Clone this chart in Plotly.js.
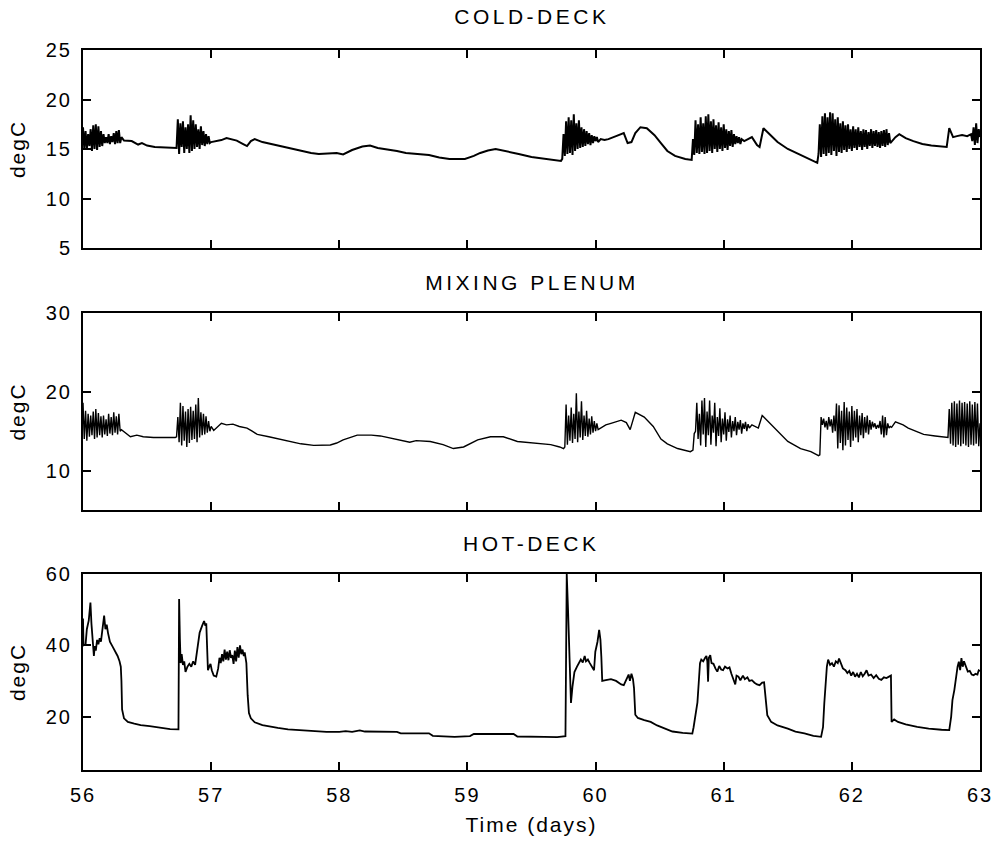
<!DOCTYPE html>
<html>
<head>
<meta charset="utf-8">
<script src="https://cdn.plot.ly/plotly-3.0.1.min.js"></script>
<style>
  html, body { margin: 0; padding: 0; background: #fff; }
  #chart { width: 1000px; height: 845px; }
  .main-svg text { letter-spacing: 2px; }
  .main-svg .annotation-text { letter-spacing: 3.5px; }
</style>
</head>
<body>
<div id="chart"></div>
<script>
// ---- Data (time in days, temperature in degC) ----
const panelTitles = ['COLD-DECK', 'MIXING PLENUM', 'HOT-DECK'];
const xTickVals = [56, 57, 58, 59, 60, 61, 62, 63];

const coldDeck = [
  [56.00,17.2],[56.01,15.0],[56.02,16.8],[56.03,15.0],[56.04,16.5],[56.05,15.3],[56.06,17.0],[56.07,14.8],[56.08,17.4],[56.09,15.0],
  [56.10,17.5],[56.11,14.9],[56.12,17.3],[56.13,15.2],[56.14,16.8],[56.15,15.3],[56.16,16.5],[56.17,15.6],[56.18,16.2],[56.19,15.6],
  [56.20,16.5],[56.21,15.5],[56.22,16.3],[56.23,15.7],[56.24,16.6],[56.25,15.5],[56.26,16.8],[56.27,15.6],[56.28,16.9],[56.29,15.6],[56.30,16.2],
  [56.32,15.85],[56.38,15.8],[56.43,15.45],[56.46,15.6],[56.50,15.35],[56.56,15.2],[56.62,15.15],[56.72,15.1],
  [56.73,15.1],[56.74,18.0],[56.75,14.5],[56.76,17.6],[56.77,15.2],[56.78,17.8],[56.79,14.6],[56.80,17.2],[56.81,15.0],[56.82,17.5],
  [56.83,14.6],[56.84,18.4],[56.85,14.8],[56.86,17.9],[56.87,15.0],[56.88,17.5],[56.89,15.2],[56.90,17.0],[56.91,15.0],[56.92,17.3],
  [56.93,15.4],[56.94,16.8],[56.95,15.3],[56.96,16.5],[56.97,15.5],[56.98,16.3],[56.99,15.6],[57.00,15.7],
  [57.05,15.8],[57.08,15.9],[57.12,16.1],[57.15,16.0],[57.20,15.85],[57.25,15.5],[57.28,15.3],[57.31,15.8],[57.34,16.0],[57.40,15.7],
  [57.50,15.4],[57.60,15.1],[57.69,14.9],[57.78,14.6],[57.84,14.5],[57.92,14.6],[57.98,14.6],[58.03,14.45],[58.10,14.9],[58.18,15.25],
  [58.24,15.35],[58.30,15.1],[58.36,15.0],[58.45,14.8],[58.52,14.6],[58.62,14.5],[58.70,14.4],[58.78,14.15],[58.86,14.0],[58.98,14.0],
  [59.05,14.3],[59.10,14.6],[59.16,14.85],[59.22,15.0],[59.30,14.8],[59.40,14.5],[59.50,14.2],[59.60,14.05],[59.68,13.95],[59.73,13.8],
  [59.74,14.0],[59.75,16.5],[59.76,14.3],[59.77,17.8],[59.78,14.5],[59.79,18.2],[59.80,14.6],[59.81,17.9],[59.82,14.4],[59.83,18.5],
  [59.84,14.8],[59.85,17.6],[59.86,15.0],[59.87,17.9],[59.88,15.1],[59.89,17.2],[59.90,15.2],[59.91,17.0],[59.92,15.3],[59.93,16.8],
  [59.94,15.5],[59.95,16.6],[59.96,15.4],[59.97,16.4],[59.98,15.6],[59.99,16.3],[60.00,15.8],[60.01,16.2],[60.02,15.7],[60.04,16.0],[60.07,15.9],
  [60.10,16.0],[60.16,16.3],[60.20,16.5],[60.22,16.6],[60.25,15.6],[60.28,15.7],[60.31,16.6],[60.35,17.2],[60.40,17.1],[60.46,16.4],
  [60.51,15.6],[60.56,14.8],[60.62,14.3],[60.70,14.0],[60.75,13.9],
  [60.76,16.0],[60.77,14.4],[60.78,17.9],[60.79,14.6],[60.80,17.5],[60.81,14.5],[60.82,18.2],[60.83,14.7],[60.84,17.6],[60.85,14.5],
  [60.86,18.3],[60.87,14.6],[60.88,18.5],[60.89,14.8],[60.90,17.8],[60.91,14.6],[60.92,18.0],[60.93,15.0],[60.94,17.4],[60.95,14.7],
  [60.96,17.7],[60.97,15.0],[60.98,17.2],[60.99,14.8],[61.00,17.5],[61.01,15.1],[61.02,17.0],[61.03,14.9],[61.04,16.8],[61.05,15.3],
  [61.06,16.9],[61.07,15.2],[61.08,16.5],[61.09,15.5],[61.10,16.3],[61.11,15.6],[61.12,16.2],[61.13,15.5],[61.14,16.0],
  [61.16,15.8],[61.19,16.0],[61.22,16.2],[61.26,15.4],[61.28,15.2],[61.31,17.1],[61.36,16.5],[61.42,15.7],[61.50,15.0],[61.58,14.5],
  [61.65,14.1],[61.73,13.6],
  [61.74,14.5],[61.75,17.5],[61.76,14.2],[61.77,18.3],[61.78,14.5],[61.79,18.6],[61.80,14.3],[61.81,18.2],[61.82,14.6],[61.83,18.7],
  [61.84,14.4],[61.85,18.6],[61.86,14.8],[61.87,18.0],[61.88,14.3],[61.89,18.2],[61.90,14.7],[61.91,17.6],[61.92,14.6],[61.93,17.8],
  [61.94,14.9],[61.95,17.4],[61.96,14.7],[61.97,17.5],[61.98,15.0],[61.99,17.0],[62.00,14.8],[62.01,17.3],[62.02,15.1],[62.03,17.0],
  [62.04,14.9],[62.05,17.2],[62.06,15.2],[62.07,16.8],[62.08,14.9],[62.09,17.0],[62.10,15.2],[62.11,16.9],[62.12,15.0],[62.13,16.7],
  [62.14,15.3],[62.15,17.0],[62.16,15.1],[62.17,16.8],[62.18,15.3],[62.19,16.9],[62.20,15.2],[62.21,16.7],[62.22,15.1],[62.23,16.8],
  [62.24,15.3],[62.25,16.9],[62.26,15.2],[62.27,17.0],[62.28,15.4],[62.29,16.6],[62.30,15.6],
  [62.34,16.2],[62.37,16.5],[62.42,16.1],[62.48,15.8],[62.55,15.5],[62.62,15.35],[62.70,15.2],[62.74,15.2],[62.76,17.1],[62.79,16.2],
  [62.82,16.3],[62.86,16.4],[62.90,16.3],[62.93,16.5],
  [62.94,15.8],[62.95,17.2],[62.96,15.4],[62.97,17.6],[62.98,15.6],[62.99,17.0],[63.00,16.2]
];

const mixingPlenum = [
  [56.00,18.6],[56.01,14.0],[56.02,17.6],[56.03,13.8],[56.04,17.2],[56.05,14.3],[56.06,17.0],[56.07,14.5],[56.08,17.5],[56.09,14.0],
  [56.10,17.8],[56.11,14.2],[56.12,17.3],[56.13,14.5],[56.14,16.9],[56.15,14.2],[56.16,17.0],[56.17,14.6],[56.18,16.5],[56.19,14.4],
  [56.20,17.2],[56.21,14.7],[56.22,16.8],[56.23,14.5],[56.24,17.4],[56.25,14.8],[56.26,16.9],[56.27,14.6],[56.28,17.2],[56.29,15.0],[56.30,15.2],
  [56.33,14.8],[56.37,14.3],[56.42,14.5],[56.47,14.3],[56.55,14.2],[56.72,14.2],
  [56.73,14.3],[56.74,16.8],[56.75,13.6],[56.76,18.6],[56.77,13.2],[56.78,18.2],[56.79,13.8],[56.80,17.5],[56.81,13.0],[56.82,17.8],
  [56.83,13.5],[56.84,18.1],[56.85,13.9],[56.86,17.6],[56.87,14.0],[56.88,18.4],[56.89,13.6],[56.90,19.2],[56.91,14.2],[56.92,17.4],
  [56.93,14.5],[56.94,17.2],[56.95,14.6],[56.96,16.9],[56.97,14.8],[56.98,16.3],[56.99,15.0],[57.00,15.6],
  [57.02,15.1],[57.05,15.6],[57.08,16.0],[57.12,15.8],[57.17,15.9],[57.22,15.6],[57.28,15.4],[57.32,15.0],[57.36,14.6],[57.45,14.3],
  [57.57,13.9],[57.70,13.4],[57.80,13.2],[57.93,13.25],[57.98,13.5],[58.03,13.9],[58.14,14.5],[58.25,14.5],[58.32,14.4],[58.45,13.9],
  [58.55,13.6],[58.60,13.8],[58.71,13.7],[58.81,13.3],[58.89,12.8],[58.97,13.0],[59.08,13.9],[59.18,14.3],[59.28,14.3],[59.39,13.7],
  [59.46,13.6],[59.55,13.5],[59.65,13.3],[59.72,13.0],[59.75,12.8],
  [59.76,13.0],[59.77,18.4],[59.78,13.3],[59.79,17.0],[59.80,13.8],[59.81,18.0],[59.82,13.5],[59.83,17.2],[59.84,14.0],[59.85,19.8],
  [59.86,13.6],[59.87,17.5],[59.88,14.2],[59.89,18.8],[59.90,13.9],[59.91,17.0],[59.92,14.4],[59.93,17.6],[59.94,14.3],[59.95,16.6],
  [59.96,14.6],[59.97,16.9],[59.98,14.8],[59.99,16.3],[60.00,15.0],[60.01,16.0],[60.02,15.2],[60.04,15.4],
  [60.08,15.8],[60.12,16.0],[60.20,16.4],[60.24,16.1],[60.27,15.2],[60.31,17.4],[60.38,16.8],[60.45,15.6],[60.51,14.0],[60.56,13.4],
  [60.64,12.8],[60.74,12.4],
  [60.76,12.6],[60.77,14.7],[60.78,15.0],[60.79,18.6],[60.80,14.0],[60.81,17.2],[60.82,13.2],[60.83,18.9],[60.84,14.6],[60.85,19.2],
  [60.86,13.0],[60.87,17.5],[60.88,14.5],[60.89,18.9],[60.90,13.3],[60.91,17.0],[60.92,14.8],[60.93,18.6],[60.94,13.1],[60.95,16.8],
  [60.96,14.4],[60.97,17.9],[60.98,13.6],[60.99,16.6],[61.00,14.6],[61.01,17.4],[61.02,13.8],[61.03,16.5],[61.04,14.9],[61.05,17.0],
  [61.06,14.2],[61.07,16.3],[61.08,15.0],[61.09,16.8],[61.10,14.5],[61.11,16.2],[61.12,15.2],[61.13,16.4],[61.14,14.7],[61.15,16.0],
  [61.16,15.3],[61.17,16.2],[61.18,15.0],[61.19,15.9],[61.20,15.4],
  [61.22,15.8],[61.25,15.5],[61.27,15.4],[61.30,17.0],[61.36,16.0],[61.42,15.1],[61.50,13.7],[61.60,12.8],[61.68,12.4],[61.74,11.9],
  [61.75,12.0],[61.76,16.8],[61.77,15.8],[61.78,16.6],[61.79,15.5],[61.80,16.3],[61.81,15.2],[61.82,16.8],[61.83,15.6],[61.84,16.5],
  [61.85,14.8],[61.86,17.0],[61.87,15.0],[61.88,18.5],[61.89,12.8],[61.90,18.3],[61.91,13.5],[61.92,17.6],[61.93,12.6],[61.94,18.7],
  [61.95,13.2],[61.96,18.0],[61.97,13.9],[61.98,17.5],[61.99,13.0],[62.00,18.2],[62.01,13.8],[62.02,17.6],[62.03,14.2],[62.04,17.8],
  [62.05,13.6],[62.06,17.0],[62.07,14.5],[62.08,17.3],[62.09,14.1],[62.10,16.8],[62.11,14.8],[62.12,17.0],[62.13,14.6],[62.14,16.4],
  [62.15,15.2],[62.16,16.2],[62.17,15.5],[62.18,16.0],[62.19,15.3],[62.20,15.8],[62.21,15.4],[62.22,16.3],[62.23,14.6],[62.24,17.0],
  [62.25,14.2],[62.26,16.8],[62.27,14.5],[62.28,16.0],[62.29,15.4],[62.30,15.6],[62.31,15.5],
  [62.34,16.2],[62.40,15.8],[62.44,15.4],[62.50,15.0],[62.56,14.6],[62.65,14.4],[62.74,14.2],
  [62.75,14.2],[62.76,17.8],[62.77,13.4],[62.78,18.6],[62.79,13.2],[62.80,18.8],[62.81,13.0],[62.82,18.5],[62.83,13.3],[62.84,18.9],
  [62.85,13.1],[62.86,18.6],[62.87,13.4],[62.88,18.7],[62.89,13.2],[62.90,18.5],[62.91,13.0],[62.92,18.8],[62.93,13.3],[62.94,18.4],
  [62.95,13.2],[62.96,18.7],[62.97,13.4],[62.98,18.5],[62.99,13.1],[63.00,16.0]
];

const hotDeck = [
  [56.000,47.5],[56.004,40.0],[56.020,40.2],[56.030,44.5],[56.045,47.0],[56.058,52.0],[56.066,46.0],[56.075,40.5],[56.085,37.0],[56.092,39.8],
  [56.100,38.5],[56.110,41.5],[56.120,40.3],[56.130,42.0],[56.140,41.0],[56.150,44.0],[56.165,48.3],[56.175,44.5],[56.185,45.8],[56.195,43.5],
  [56.210,41.0],[56.230,39.7],[56.250,38.5],[56.270,37.0],[56.285,35.5],[56.295,34.0],[56.300,30.0],[56.305,22.0],[56.320,19.5],[56.350,18.5],
  [56.400,18.0],[56.450,17.6],[56.520,17.3],[56.600,16.9],[56.680,16.5],[56.745,16.4],
  [56.750,53.0],[56.756,42.0],[56.762,35.0],[56.770,37.5],[56.780,34.5],[56.790,35.5],[56.800,32.5],[56.815,34.0],[56.830,34.8],[56.845,34.0],
  [56.860,35.5],[56.875,34.5],[56.890,39.0],[56.910,43.5],[56.930,45.5],[56.945,46.8],[56.955,45.5],[56.962,46.2],[56.968,40.0],[56.975,33.0],
  [56.985,34.0],[56.995,34.8],[57.005,33.0],[57.020,31.5],[57.040,31.2],[57.055,33.5],[57.065,36.5],[57.075,35.0],[57.085,37.5],[57.095,35.5],
  [57.105,38.8],[57.115,36.0],[57.125,38.2],[57.135,35.8],[57.145,38.6],[57.155,36.5],[57.165,37.2],[57.175,34.8],[57.185,38.5],[57.195,35.5],
  [57.205,39.5],[57.215,36.5],[57.225,40.0],[57.235,37.5],[57.245,38.8],[57.255,37.0],[57.262,38.0],[57.275,35.0],[57.285,26.0],[57.295,21.0],
  [57.310,19.5],[57.340,18.4],[57.400,17.6],[57.450,17.2],[57.520,16.8],[57.600,16.4],[57.700,16.1],[57.800,15.8],[57.900,15.7],[58.000,15.7],
  [58.050,15.9],[58.100,15.7],[58.160,16.1],[58.200,15.8],[58.450,15.7],[58.480,15.3],[58.700,15.3],[58.730,14.6],[58.850,14.5],[58.900,14.3],
  [59.020,14.5],[59.050,15.1],[59.360,15.1],[59.390,14.4],[59.600,14.3],[59.700,14.2],[59.765,14.5],
  [59.770,35.0],[59.775,60.0],[59.785,50.0],[59.795,35.0],[59.808,23.8],[59.820,28.5],[59.835,32.5],[59.855,34.0],[59.870,35.0],[59.885,36.0],
  [59.900,35.2],[59.915,37.0],[59.925,35.5],[59.940,36.0],[59.955,35.0],[59.975,34.0],[59.988,33.0],[59.998,38.2],[60.015,41.0],[60.028,44.3],
  [60.038,41.5],[60.045,36.8],[60.052,30.0],[60.080,30.2],[60.120,30.5],[60.160,30.0],[60.200,29.0],[60.220,28.8],[60.240,30.5],[60.258,31.8],
  [60.268,30.0],[60.280,32.0],[60.292,30.5],[60.300,28.0],[60.310,20.5],[60.330,19.6],[60.380,19.0],[60.430,18.5],[60.480,17.5],[60.530,16.8],
  [60.600,15.8],[60.680,15.4],[60.755,15.2],
  [60.765,17.0],[60.780,21.3],[60.795,24.0],[60.805,29.5],[60.815,35.0],[60.825,36.0],[60.840,35.5],[60.855,36.5],[60.865,37.0],[60.872,35.5],
  [60.878,29.8],[60.884,36.5],[60.895,37.2],[60.905,35.0],[60.920,34.8],[60.935,33.5],[60.950,32.6],[60.965,34.2],[60.980,33.2],[60.995,33.0],
  [61.010,34.0],[61.030,33.5],[61.045,33.8],[61.060,32.0],[61.075,30.5],[61.090,29.0],[61.100,31.5],[61.115,31.2],[61.130,30.2],[61.150,31.5],
  [61.165,30.5],[61.185,31.0],[61.200,30.0],[61.220,30.2],[61.240,29.5],[61.260,29.0],[61.280,28.8],[61.300,29.5],[61.315,29.6],[61.325,25.0],
  [61.340,20.4],[61.370,18.5],[61.420,17.5],[61.500,16.6],[61.560,15.8],[61.630,15.3],[61.700,14.6],[61.760,14.3],
  [61.775,17.0],[61.785,23.8],[61.795,30.0],[61.805,34.0],[61.815,36.0],[61.830,34.5],[61.845,35.0],[61.860,34.0],[61.875,35.5],[61.890,35.0],
  [61.900,36.3],[61.915,35.0],[61.930,33.5],[61.950,33.0],[61.965,32.2],[61.980,32.8],[61.995,31.5],[62.010,32.5],[62.025,31.2],[62.040,32.0],
  [62.055,31.0],[62.070,32.5],[62.085,31.3],[62.100,32.0],[62.115,33.0],[62.130,31.5],[62.150,31.8],[62.170,30.8],[62.190,31.6],[62.210,30.6],
  [62.230,30.3],[62.250,31.0],[62.270,30.8],[62.290,31.2],[62.305,31.5],[62.310,18.5],[62.330,19.2],[62.360,18.5],[62.420,17.8],[62.510,17.1],
  [62.600,16.6],[62.700,16.3],[62.760,16.2],
  [62.775,20.0],[62.785,24.6],[62.800,27.5],[62.815,32.0],[62.825,34.0],[62.835,35.4],[62.845,33.0],[62.855,36.4],[62.865,34.0],[62.875,35.5],
  [62.890,33.8],[62.905,32.6],[62.920,32.8],[62.935,31.8],[62.950,31.6],[62.965,32.0],[62.980,31.8],[62.990,33.0],[63.000,32.8]
];

const yRanges = [[5, 25], [5, 30], [5, 60]];
const yTickVals = [[5, 10, 15, 20, 25], [10, 20, 30], [20, 40, 60]];

// ---- Build the figure ----
const series = [coldDeck, mixingPlenum, hotDeck];
const lineWidths = [2.0, 1.4, 1.8];
const axisSuffix = ['', '2', '3'];

const traces = series.map((s, i) => ({
  type: 'scatter',
  mode: 'lines',
  x: s.map(p => p[0]),
  y: s.map(p => p[1]),
  xaxis: 'x' + axisSuffix[i],
  yaxis: 'y' + axisSuffix[i],
  line: { color: '#000', width: lineWidths[i] },
  hoverinfo: 'x+y',
  name: panelTitles[i]
}));

const font = 'Liberation Sans, Arial, Helvetica, sans-serif';
const common = {
  showline: true, linecolor: '#000', linewidth: 2, mirror: 'ticks',
  ticks: 'inside', ticklen: 8, tickwidth: 2, tickcolor: '#000',
  showgrid: false, zeroline: false, fixedrange: true,
  tickfont: { family: font, size: 20, color: '#000' }
};
const domains = [[0.725, 1], [0.3611, 0.6347], [0, 0.2722]];

const layout = {
  width: 1000, height: 845,
  margin: { l: 83, r: 20, t: 50, b: 75 },
  paper_bgcolor: '#fff', plot_bgcolor: '#fff',
  showlegend: false,
  font: { family: font, color: '#000', size: 20 },
  annotations: panelTitles.map((t, i) => ({
    text: t, xref: 'paper', yref: 'paper', x: 0.5, y: domains[i][1],
    xanchor: 'center', yanchor: 'bottom', yshift: i === 0 ? 20 : 17,
    showarrow: false, font: { family: font, size: 21, color: '#000' }
  }))
};

for (let i = 0; i < 3; i++) {
  const sx = axisSuffix[i];
  layout['xaxis' + sx] = Object.assign({}, common, {
    anchor: 'y' + sx, domain: [0, 1], range: [56, 63],
    tickmode: 'array', tickvals: xTickVals,
    showticklabels: i === 2, ticklabelstandoff: 6,
    title: i === 2 ? { text: 'Time (days)', font: { family: font, size: 21, color: '#000' }, standoff: 12 } : { text: '' }
  });
  layout['yaxis' + sx] = Object.assign({}, common, {
    anchor: 'x' + sx, domain: domains[i], range: yRanges[i],
    tickmode: 'array', tickvals: yTickVals[i], ticklabelstandoff: 5,
    title: { text: 'degC', font: { family: font, size: 21, color: '#000' }, standoff: 18 }
  });
}

Plotly.newPlot('chart', traces, layout, { displayModeBar: false, staticPlot: true });
</script>
</body>
</html>
